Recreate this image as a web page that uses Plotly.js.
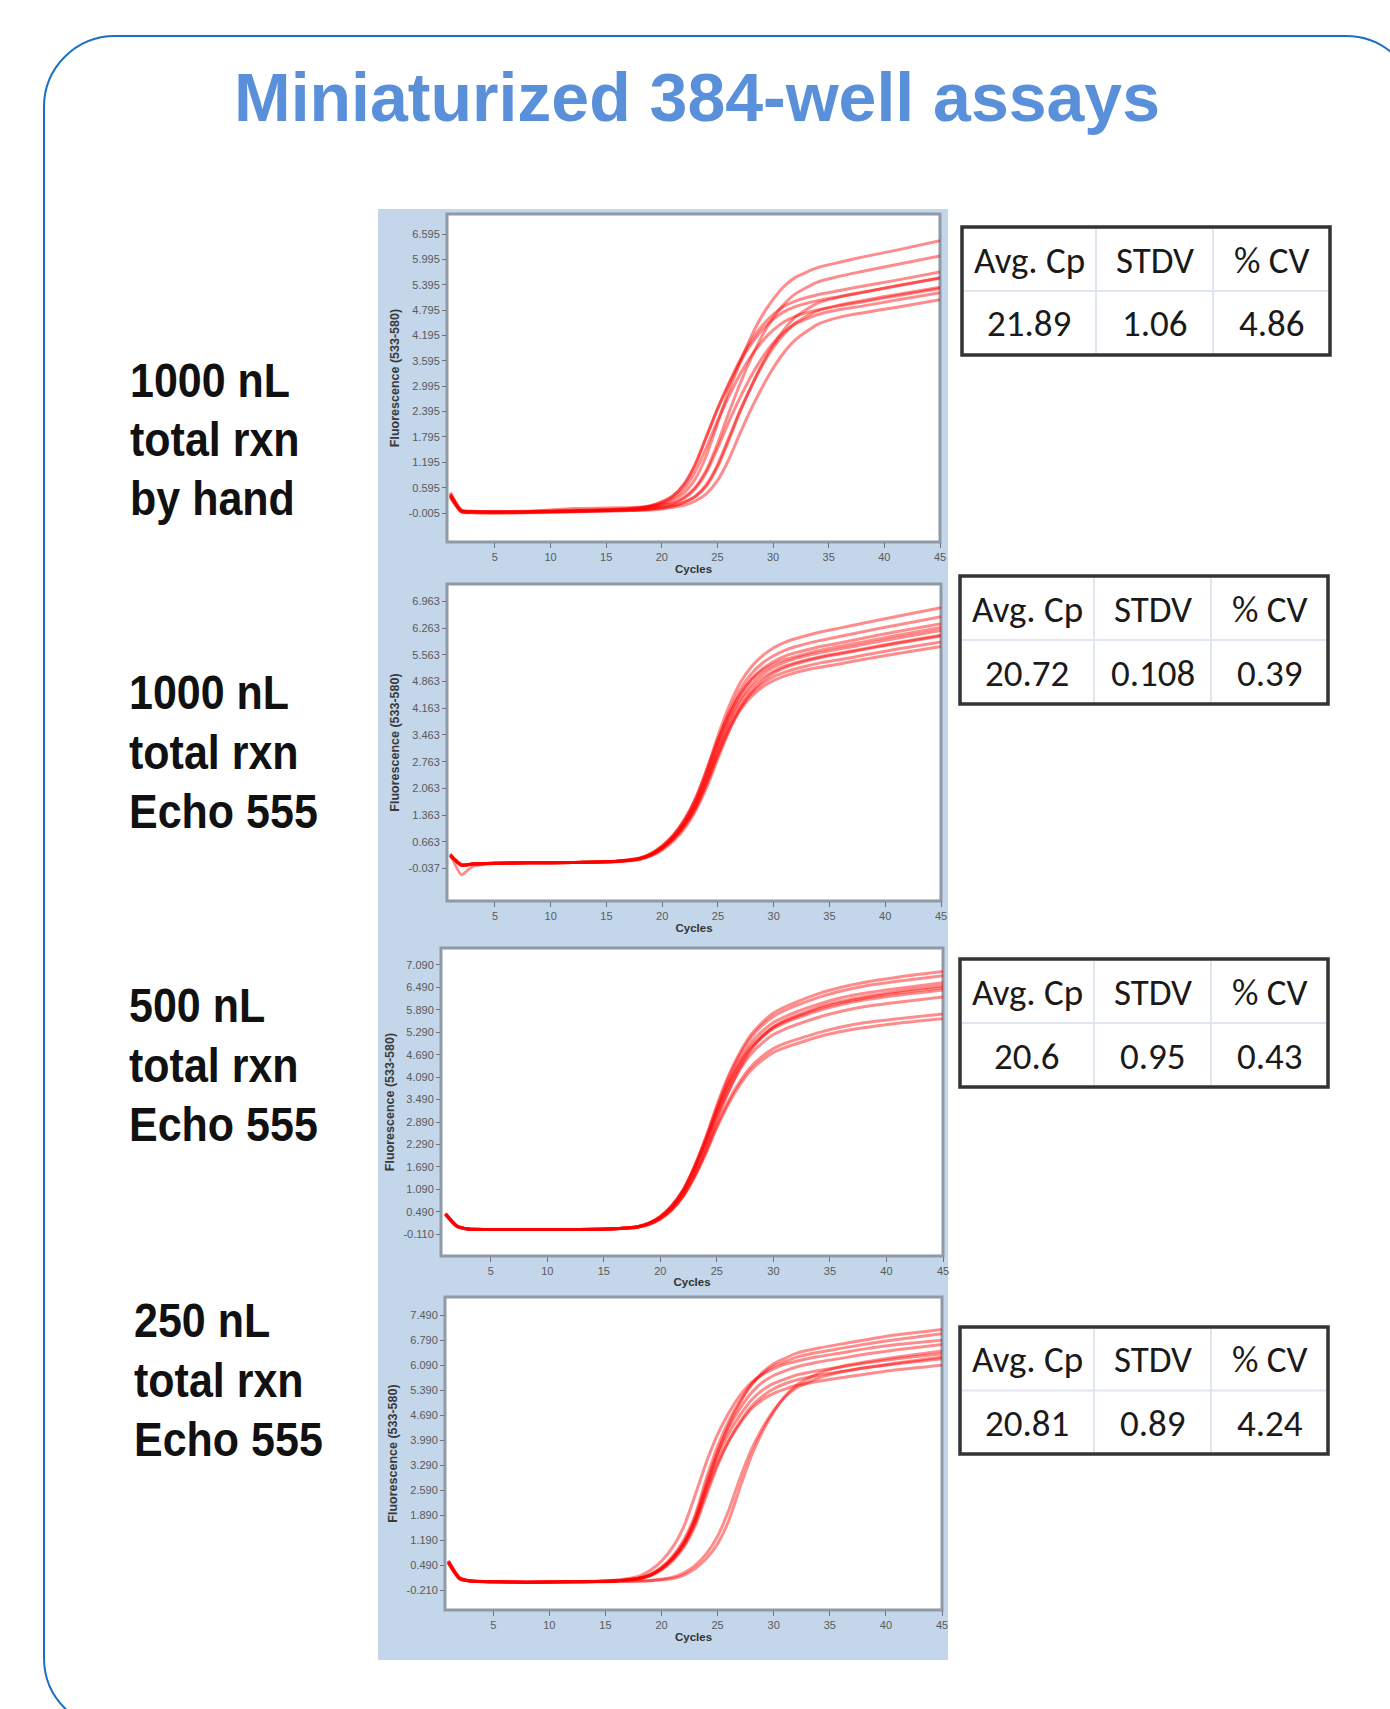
<!DOCTYPE html>
<html>
<head>
<meta charset="utf-8">
<script src="https://cdn.plot.ly/plotly-3.0.1.min.js"></script>
<style>
html,body{margin:0;padding:0;background:#fff;}
#chart{width:1390px;height:1709px;}
</style>
</head>
<body>
<div id="chart"></div>
<script>
// ---------------- DATA ----------------
const pageTitle = "Miniaturized 384-well assays";
const cycles = [1,2,3,5,8,12,16,18,19,20,21,22,23,24,25,26,27,28,29,30,31,32,34,36,38,41,45];
const xTickVals = [5,10,15,20,25,30,35,40,45];

const panelLabels = [
  ["1000 nL","total rxn","by hand"],
  ["1000 nL","total rxn","Echo 555"],
  ["500 nL","total rxn","Echo 555"],
  ["250 nL","total rxn","Echo 555"]
];

const tableHeader = ["Avg. Cp","STDV","% CV"];
const avgCp = ["21.89","20.72","20.6","20.81"];
const stdv  = ["1.06","0.108","0.95","0.89"];
const cv    = ["4.86","0.39","0.43","4.24"];

const yTicks1 = [-0.005,0.595,1.195,1.795,2.395,2.995,3.595,4.195,4.795,5.395,5.995,6.595];
const yTicks2 = [-0.037,0.663,1.363,2.063,2.763,3.463,4.163,4.863,5.563,6.263,6.963];
const yTicks3 = [-0.110,0.490,1.090,1.690,2.290,2.890,3.490,4.090,4.690,5.290,5.890,6.490,7.090];
const yTicks4 = [-0.210,0.490,1.190,1.890,2.590,3.290,3.990,4.690,5.390,6.090,6.790,7.490];
const yAxisTitle = "Fluorescence (533-580)";
const xAxisTitle = "Cycles";

// panel 1: 1000 nL by hand
const curves1 = [
 [0.45,0.05,0.03,0.02,0.02,0.04,0.07,0.12,0.17,0.26,0.40,0.68,1.15,1.80,2.45,3.02,3.55,3.98,4.32,4.58,4.76,4.88,5.02,5.12,5.22,5.36,5.55],
 [0.40,0.03,0.02,0.01,0.02,0.04,0.06,0.10,0.15,0.22,0.35,0.57,0.97,1.54,2.17,2.74,3.26,3.70,4.05,4.32,4.52,4.65,4.80,4.90,4.99,5.13,5.31],
 [0.42,0.04,0.02,0.02,0.02,0.04,0.08,0.11,0.14,0.20,0.30,0.47,0.80,1.35,2.11,2.87,3.53,4.15,4.66,5.05,5.36,5.57,5.80,5.93,6.05,6.21,6.44],
 [0.40,0.06,0.03,0.02,0.03,0.10,0.12,0.13,0.15,0.19,0.23,0.37,0.60,1.01,1.63,2.35,3.03,3.64,4.18,4.61,4.94,5.18,5.46,5.60,5.71,5.87,6.08],
 [0.38,0.03,0.01,0.00,0.01,0.03,0.05,0.07,0.09,0.12,0.17,0.25,0.39,0.67,1.13,1.76,2.40,2.96,3.48,3.90,4.23,4.49,4.78,4.92,5.02,5.16,5.34],
 [0.36,0.02,0.00,-0.01,0.00,0.02,0.05,0.06,0.07,0.09,0.13,0.18,0.28,0.45,0.76,1.25,1.86,2.44,2.96,3.42,3.80,4.09,4.46,4.63,4.73,4.86,5.04],
 [0.44,0.05,0.03,0.02,0.03,0.05,0.06,0.07,0.09,0.12,0.16,0.25,0.38,0.63,1.08,1.70,2.37,2.97,3.51,3.97,4.34,4.63,4.96,5.11,5.21,5.37,5.56],
 [0.48,0.06,0.04,0.03,0.04,0.06,0.09,0.12,0.17,0.26,0.40,0.67,1.13,1.79,2.46,3.05,3.60,4.06,4.42,4.69,4.89,5.01,5.16,5.26,5.36,5.50,5.70],
 [0.41,0.03,0.02,0.02,0.02,0.04,0.07,0.08,0.10,0.15,0.22,0.34,0.57,0.96,1.52,2.14,2.71,3.22,3.66,4.01,4.28,4.47,4.69,4.81,4.89,5.03,5.21]
];

// panel 2: 1000 nL Echo 555
const curves2 = [
 [0.28,0.06,0.08,0.10,0.11,0.12,0.15,0.21,0.31,0.48,0.73,1.07,1.54,2.19,2.93,3.60,4.11,4.47,4.72,4.89,5.01,5.10,5.23,5.33,5.44,5.59,5.78],
 [0.31,0.04,0.08,0.10,0.11,0.12,0.15,0.22,0.31,0.49,0.74,1.09,1.57,2.23,2.99,3.67,4.19,4.56,4.81,4.99,5.11,5.20,5.34,5.44,5.55,5.71,5.90],
 [0.30,0.05,0.08,0.10,0.11,0.12,0.15,0.22,0.32,0.50,0.76,1.12,1.62,2.30,3.08,3.78,4.32,4.70,4.96,5.14,5.27,5.36,5.50,5.61,5.72,5.88,6.08],
 [0.33,0.07,0.08,0.10,0.11,0.12,0.15,0.22,0.33,0.51,0.77,1.14,1.65,2.34,3.14,3.85,4.40,4.79,5.06,5.24,5.37,5.47,5.61,5.72,5.83,6.00,6.20],
 [0.29,0.05,0.08,0.10,0.11,0.12,0.15,0.23,0.33,0.52,0.79,1.17,1.70,2.41,3.23,3.96,4.53,4.93,5.20,5.39,5.53,5.62,5.77,5.88,6.00,6.17,6.38],
 [0.32,0.06,0.08,0.10,0.11,0.12,0.15,0.23,0.34,0.53,0.81,1.20,1.74,2.48,3.32,4.07,4.66,5.07,5.35,5.54,5.68,5.78,5.93,6.05,6.17,6.34,6.56],
 [0.30,0.04,0.08,0.10,0.11,0.12,0.16,0.23,0.35,0.55,0.84,1.24,1.80,2.56,3.44,4.22,4.83,5.25,5.54,5.75,5.89,5.99,6.15,6.27,6.39,6.57,6.80],
 [0.35,-0.20,0.02,0.09,0.11,0.12,0.14,0.20,0.29,0.45,0.68,1.01,1.48,2.10,2.85,3.57,4.16,4.59,4.88,5.09,5.23,5.33,5.48,5.59,5.70,5.86,6.06],
 [0.31,0.05,0.08,0.10,0.11,0.12,0.16,0.24,0.36,0.56,0.84,1.25,1.81,2.56,3.35,4.01,4.54,4.91,5.15,5.32,5.44,5.52,5.67,5.79,5.90,6.07,6.28]
];

// panel 3: 500 nL Echo 555
const curves3 = [
 [0.43,0.11,0.03,0.02,0.02,0.02,0.04,0.08,0.16,0.30,0.54,0.89,1.40,2.03,2.74,3.36,3.87,4.27,4.54,4.75,4.88,4.98,5.17,5.31,5.41,5.53,5.65],
 [0.41,0.10,0.03,0.02,0.02,0.02,0.04,0.08,0.16,0.31,0.55,0.91,1.43,2.07,2.80,3.44,3.96,4.36,4.64,4.85,4.99,5.09,5.28,5.43,5.54,5.65,5.78],
 [0.43,0.11,0.03,0.02,0.02,0.02,0.04,0.09,0.18,0.34,0.61,1.01,1.59,2.30,3.11,3.82,4.40,4.85,5.16,5.39,5.54,5.66,5.87,6.03,6.15,6.28,6.42],
 [0.45,0.12,0.03,0.02,0.02,0.02,0.04,0.09,0.19,0.35,0.63,1.04,1.64,2.37,3.20,3.93,4.53,5.00,5.31,5.55,5.70,5.83,6.04,6.21,6.33,6.46,6.61],
 [0.42,0.10,0.03,0.02,0.02,0.02,0.04,0.09,0.19,0.36,0.64,1.05,1.68,2.44,3.28,4.04,4.66,5.14,5.47,5.71,5.87,6.00,6.22,6.39,6.52,6.65,6.80],
 [0.44,0.12,0.03,0.02,0.02,0.02,0.04,0.10,0.19,0.37,0.66,1.07,1.70,2.46,3.34,4.11,4.73,5.22,5.55,5.80,5.96,6.09,6.32,6.49,6.62,6.76,6.91],
 [0.43,0.11,0.03,0.02,0.02,0.02,0.04,0.09,0.17,0.33,0.59,0.98,1.54,2.23,3.02,3.70,4.27,4.70,5.00,5.23,5.37,5.49,5.69,5.85,5.97,6.09,6.23],
 [0.42,0.10,0.03,0.02,0.02,0.02,0.04,0.08,0.15,0.30,0.54,0.91,1.45,2.13,2.93,3.68,4.31,4.81,5.17,5.43,5.61,5.73,5.96,6.12,6.24,6.38,6.53],
 [0.44,0.11,0.03,0.02,0.02,0.02,0.04,0.10,0.19,0.36,0.64,1.06,1.66,2.38,3.19,3.89,4.46,4.90,5.20,5.43,5.58,5.70,5.92,6.08,6.20,6.34,6.48]
];

// panel 4: 250 nL Echo 555
const curves4 = [
 [0.58,0.12,0.04,0.02,0.01,0.02,0.05,0.12,0.21,0.40,0.68,1.10,1.75,2.68,3.52,4.18,4.69,5.11,5.39,5.58,5.70,5.81,5.94,6.04,6.14,6.27,6.41],
 [0.60,0.13,0.04,0.02,0.01,0.02,0.05,0.13,0.23,0.43,0.74,1.20,1.89,2.92,3.82,4.53,5.09,5.55,5.85,6.06,6.19,6.31,6.45,6.56,6.67,6.81,6.97],
 [0.55,0.10,0.04,0.02,0.01,0.02,0.05,0.11,0.20,0.38,0.67,1.08,1.73,2.66,3.63,4.42,5.04,5.53,5.89,6.13,6.28,6.42,6.57,6.68,6.79,6.94,7.09],
 [0.62,0.14,0.04,0.02,0.01,0.02,0.05,0.12,0.22,0.41,0.70,1.14,1.82,2.79,3.66,4.35,4.88,5.31,5.61,5.80,5.93,6.04,6.18,6.28,6.39,6.52,6.67],
 [0.56,0.11,0.04,0.02,0.01,0.02,0.05,0.12,0.20,0.38,0.65,1.05,1.67,2.55,3.35,3.97,4.46,4.86,5.12,5.30,5.42,5.52,5.64,5.74,5.83,5.96,6.09],
 [0.57,0.12,0.04,0.02,0.01,0.02,0.05,0.10,0.19,0.35,0.61,1.00,1.59,2.44,3.28,3.97,4.50,4.93,5.22,5.43,5.57,5.67,5.81,5.91,6.01,6.13,6.27],
 [0.55,0.10,0.04,0.02,0.01,0.02,0.03,0.04,0.06,0.09,0.15,0.27,0.48,0.81,1.30,2.03,2.93,3.72,4.33,4.82,5.19,5.45,5.73,5.90,6.01,6.15,6.32],
 [0.57,0.11,0.04,0.02,0.01,0.02,0.03,0.04,0.05,0.08,0.11,0.21,0.39,0.67,1.09,1.74,2.67,3.54,4.23,4.78,5.22,5.52,5.86,6.05,6.17,6.32,6.49],
 [0.59,0.13,0.04,0.02,0.01,0.02,0.07,0.18,0.34,0.60,0.99,1.58,2.45,3.37,4.15,4.76,5.24,5.60,5.83,5.99,6.12,6.20,6.33,6.43,6.54,6.67,6.79]
];

const allCurves = [curves1, curves2, curves3, curves4];
const allYTicks = [yTicks1, yTicks2, yTicks3, yTicks4];

// ---------------- LAYOUT GEOMETRY (pixels) ----------------
const W = 1390, H = 1709;
const fx = p => p / W;
const fy = p => 1 - p / H;

const panelBoxes = [
  {x0:447, x1:940, y0:214, y1:542,  yr:[-0.69,7.07], xr:[0.7,45]},
  {x0:447, x1:941, y0:584, y1:901,  yr:[-0.89,7.42], xr:[0.7,45]},
  {x0:441, x1:943, y0:948, y1:1256, yr:[-0.69,7.54], xr:[0.6,45]},
  {x0:445, x1:942, y0:1297,y1:1610, yr:[-0.77,8.00], xr:[0.7,45]}
];
const tableBoxes = [
  {x0:962, x1:1330, y0:227, y1:355, c1:1096, c2:1213},
  {x0:960, x1:1328, y0:576, y1:704, c1:1094, c2:1211},
  {x0:960, x1:1328, y0:959, y1:1087, c1:1094, c2:1211},
  {x0:960, x1:1328, y0:1327, y1:1454, c1:1094, c2:1211}
];
const labelPos = [
  {x:128, ys:[380,439,498]},
  {x:127, ys:[692,752,811]},
  {x:127, ys:[1005,1065,1124]},
  {x:132, ys:[1320,1380,1439]}
];

const labelFont = "'Liberation Sans', Arial, sans-serif";
const tickFamily = "'Liberation Sans', Arial, sans-serif";
const tableFont = "Carlito, Lato, 'Open Sans', sans-serif";

const traces = [];
const layout = {
  width: W, height: H,
  margin: {l:0, r:0, t:0, b:0},
  paper_bgcolor: '#ffffff',
  plot_bgcolor: 'rgba(0,0,0,0)',
  showlegend: false,
  shapes: [],
  annotations: []
};

// rounded outer border
(function(){
  const L=44, T=36, R=1417, B=1729, r=71, k=0.5523*r;
  const P = (x,y) => fx(x).toFixed(5)+','+fy(y).toFixed(5);
  const path = 'M'+P(L+r,T)+' L'+P(R-r,T)+' C'+P(R-r+k,T)+' '+P(R,T+r-k)+' '+P(R,T+r)+
    ' L'+P(R,B-r)+' C'+P(R,B-r+k)+' '+P(R-r+k,B)+' '+P(R-r,B)+
    ' L'+P(L+r,B)+' C'+P(L+r-k,B)+' '+P(L,B-r+k)+' '+P(L,B-r)+
    ' L'+P(L,T+r)+' C'+P(L,T+r-k)+' '+P(L+r-k,T)+' '+P(L+r,T)+' Z';
  layout.shapes.push({type:'path', xref:'paper', yref:'paper', path:path,
    line:{color:'#1b6fc4', width:2}, fillcolor:'rgba(0,0,0,0)', layer:'below'});
})();

// blue backdrop behind the four charts
layout.shapes.push({type:'rect', xref:'paper', yref:'paper', layer:'below',
  x0:fx(378), x1:fx(948), y0:fy(1660), y1:fy(209),
  fillcolor:'#c3d6ea', line:{width:0}});

const stretchIdx = [];

panelBoxes.forEach((b, i) => {
  const n = i === 0 ? '' : String(i+1);
  const xa = 'xaxis' + n, ya = 'yaxis' + n;
  // white plot area + frame
  layout.shapes.push({type:'rect', xref:'paper', yref:'paper', layer:'below',
    x0:fx(b.x0), x1:fx(b.x1), y0:fy(b.y1), y1:fy(b.y0),
    fillcolor:'#ffffff', line:{color:'#8f9aa6', width:3}});
  layout[xa] = {
    domain:[fx(b.x0), fx(b.x1)], range:b.xr, anchor:'y'+n,
    tickvals:xTickVals, ticktext:xTickVals.map(String),
    ticks:'outside', ticklen:5, tickcolor:'#6b7480', tickwidth:1,
    tickfont:{family:tickFamily, size:11, color:'#5a5a5a'},
    showgrid:false, zeroline:false, showline:false,
    title:{text:'<b>'+xAxisTitle+'</b>', font:{family:tickFamily, size:11.5, color:'#333'}, standoff:1},
    fixedrange:true
  };
  const yt = allYTicks[i];
  layout[ya] = {
    domain:[fy(b.y1), fy(b.y0)], range:b.yr, anchor:'x'+n,
    tickvals:yt, ticktext:yt.map(v => v.toFixed(3)),
    ticks:'outside', ticklen:4, tickcolor:'#6b7480', tickwidth:1,
    tickfont:{family:tickFamily, size:11, color:'#5a5a5a'},
    showgrid:false, zeroline:false, showline:false,
    title:{text:'<b>'+yAxisTitle+'</b>', font:{family:tickFamily, size:12.5, color:'#3a3a3a'}, standoff:6},
    fixedrange:true
  };
  allCurves[i].forEach(c => {
    traces.push({
      x: cycles, y: c, xaxis:'x'+n, yaxis:'y'+n,
      type:'scatter', mode:'lines',
      line:{color:'rgba(255,0,0,0.45)', width:3, shape:'spline', smoothing:0.6},
      hoverinfo:'skip', showlegend:false
    });
  });

  // left label
  const lp = labelPos[i];
  panelLabels[i].forEach((t, j) => {
    stretchIdx.push(layout.annotations.length);
    layout.annotations.push({xref:'paper', yref:'paper', x:fx(lp.x), y:fy(lp.ys[j]),
      xanchor:'left', yanchor:'middle', showarrow:false, text:'<b>'+t+'</b>',
      font:{family:labelFont, size:43, color:'#111'}});
  });

  // stats table
  const t = tableBoxes[i];
  const rowMid = (t.y0 + t.y1) / 2;
  layout.shapes.push({type:'rect', xref:'paper', yref:'paper', layer:'above',
    x0:fx(t.x0), x1:fx(t.x1), y0:fy(t.y1), y1:fy(t.y0),
    fillcolor:'#ffffff', line:{color:'#333333', width:3.5}});
  [t.c1, t.c2].forEach(cx => layout.shapes.push({type:'line', xref:'paper', yref:'paper', layer:'above',
    x0:fx(cx), x1:fx(cx), y0:fy(t.y1-2), y1:fy(t.y0+2), line:{color:'#dfe6f0', width:2}}));
  layout.shapes.push({type:'line', xref:'paper', yref:'paper', layer:'above',
    x0:fx(t.x0+2), x1:fx(t.x1-2), y0:fy(rowMid), y1:fy(rowMid), line:{color:'#dfe6f0', width:2}});
  const colC = [(t.x0+t.c1)/2, (t.c1+t.c2)/2, (t.c2+t.x1)/2];
  const vals = [avgCp[i], stdv[i], cv[i]];
  for (let j = 0; j < 3; j++) {
    layout.annotations.push({xref:'paper', yref:'paper', x:fx(colC[j]), y:fy((t.y0+rowMid)/2+1),
      xanchor:'center', yanchor:'middle', showarrow:false, text:tableHeader[j],
      font:{family:tableFont, size:37, color:'#1a1a1a'}});
    layout.annotations.push({xref:'paper', yref:'paper', x:fx(colC[j]), y:fy((rowMid+t.y1)/2+1),
      xanchor:'center', yanchor:'middle', showarrow:false, text:vals[j],
      font:{family:tableFont, size:37, color:'#1a1a1a'}});
  }
});

// page title
layout.annotations.push({xref:'paper', yref:'paper', x:fx(697), y:fy(97),
  xanchor:'center', yanchor:'middle', showarrow:false, text:'<b>'+pageTitle+'</b>',
  font:{family:"'Liberation Sans', Arial, sans-serif", size:68, color:'#5a8fd9'}});

Plotly.newPlot('chart', traces, layout, {staticPlot:true, displayModeBar:false}).then(gd => {
  // the reference lettering is slightly condensed: stretch the left labels vertically
  const groups = gd.querySelectorAll('g.annotation');
  groups.forEach(g => {
    const idx = +g.getAttribute('data-index');
    if (stretchIdx.indexOf(idx) < 0) return;
    const txt = g.querySelector('text');
    if (!txt) return;
    const bb = txt.getBBox();
    const cy = bb.y + bb.height / 2;
    const prev = txt.getAttribute('transform') || '';
    txt.setAttribute('transform', prev + ' translate(0,' + cy + ') scale(1,1.12) translate(0,' + (-cy) + ')');
  });
});
</script>
</body>
</html>
